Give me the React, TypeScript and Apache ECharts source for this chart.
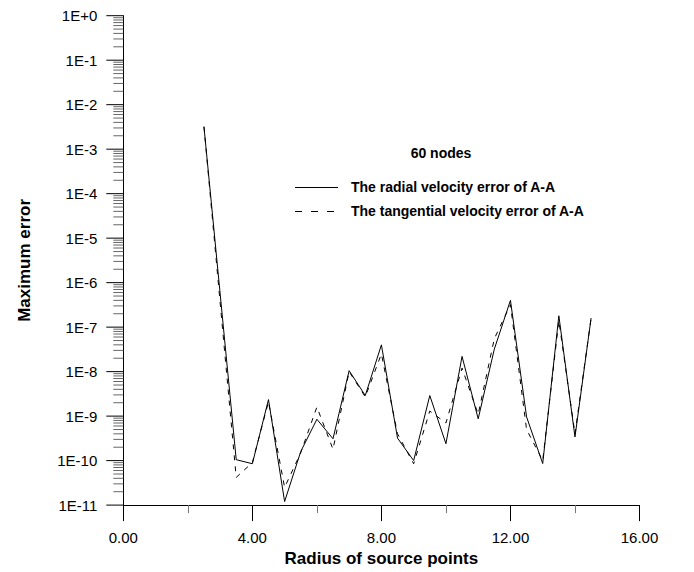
import React, { useEffect, useRef } from "react";
import * as echarts from "echarts";

const radius = [2.5, 3.5, 4.0, 4.5, 5.0, 5.5, 6.0, 6.5, 7.0, 7.5, 8.0, 8.5, 9.0, 9.5, 10.0, 10.5, 11.0, 11.5, 12.0, 12.5, 13.0, 13.5, 14.0, 14.5];
const radialError = [3.2e-3, 1.05e-10, 8.5e-11, 2.35e-9, 1.2e-11, 1.6e-10, 8.5e-10, 3.1e-10, 1.05e-8, 2.9e-9, 4e-8, 3.2e-10, 1.0e-10, 2.9e-9, 2.4e-10, 2.2e-8, 8.7e-10, 3.2e-8, 4e-7, 9.6e-10, 8.6e-11, 1.8e-7, 3.4e-10, 1.6e-7];
const tangentialError = [3.2e-3, 4.2e-11, 9e-11, 2.1e-9, 2.5e-11, 1.5e-10, 1.6e-9, 1.8e-10, 1e-8, 2.7e-9, 2.5e-8, 4e-10, 8.5e-11, 1.3e-9, 7e-10, 1.2e-8, 1.1e-9, 5.5e-8, 3.2e-7, 5e-10, 1e-10, 1.4e-7, 4e-10, 1.6e-7];

const seriesNames = ["The radial velocity error of A-A", "The tangential velocity error of A-A"];
const annotationTitle = "60 nodes";
const xAxisName = "Radius of source points";
const yAxisName = "Maximum error";

const yTickValues = [1e0, 1e-1, 1e-2, 1e-3, 1e-4, 1e-5, 1e-6, 1e-7, 1e-8, 1e-9, 1e-10, 1e-11];
const yTickLabels = ["1E+0", "1E-1", "1E-2", "1E-3", "1E-4", "1E-5", "1E-6", "1E-7", "1E-8", "1E-9", "1E-10", "1E-11"];
const minorMultipliers = [2, 3, 4, 5, 6, 7, 8, 9];

const FONT = "'Liberation Sans', Arial, sans-serif";

export default function App() {
  const ref = useRef<HTMLDivElement>(null);
  useEffect(() => {
    if (!ref.current) return;
    const chart = echarts.init(ref.current, null, { renderer: "svg" });
    const minorTicks: number[][] = [];
    yTickValues.slice(1).forEach((d) => {
      minorMultipliers.forEach((m) => {
        minorTicks.push([0, m * d]);
      });
    });
    const option: any = {
      animation: false,
      backgroundColor: "#ffffff",
      grid: { left: 123.3, right: 54.5, top: 15.7, bottom: 65.3 },
      xAxis: {
        type: "value",
        min: 0,
        max: 16,
        interval: 4,
        name: xAxisName,
        nameLocation: "middle",
        nameGap: 42,
        nameTextStyle: { fontFamily: FONT, fontSize: 17, fontWeight: "bold", color: "#000" },
        axisLine: { show: true, lineStyle: { color: "#000", width: 1 } },
        axisTick: { show: true, length: 16, lineStyle: { color: "#000", width: 1 } },
        minorTick: { show: true, splitNumber: 2, length: 8, lineStyle: { color: "#777", width: 1 } },
        splitLine: { show: false },
        axisLabel: {
          fontFamily: FONT,
          fontSize: 15,
          color: "#000",
          margin: 25,
          formatter: (v: number) => v.toFixed(2),
        },
      },
      yAxis: {
        type: "log",
        logBase: 10,
        min: 1e-11,
        max: 1,
        name: yAxisName,
        nameLocation: "middle",
        nameGap: 90,
        nameTextStyle: { fontFamily: FONT, fontSize: 17, fontWeight: "bold", color: "#000" },
        axisLine: { show: true, lineStyle: { color: "#000", width: 1 } },
        axisTick: { show: false },
        splitLine: { show: false },
        minorTick: { show: false },
        axisLabel: { show: false },
      },
      series: [
        {
          name: seriesNames[0],
          type: "line",
          data: radius.map((x, i) => [x, radialError[i]]),
          symbol: "none",
          lineStyle: { color: "#000", width: 1 },
          z: 3,
        },
        {
          name: seriesNames[1],
          type: "line",
          data: radius.map((x, i) => [x, tangentialError[i]]),
          symbol: "none",
          lineStyle: { color: "#000", width: 1, type: [5, 6] },
          z: 4,
        },
        {
          type: "custom",
          silent: true,
          clip: false,
          data: minorTicks,
          renderItem: (params: any, api: any) => {
            const pt = api.coord([api.value(0), api.value(1)]);
            return {
              type: "line",
              shape: { x1: pt[0] - 10, y1: pt[1], x2: pt[0], y2: pt[1] },
              style: { stroke: "#666", lineWidth: 1 },
            };
          },
          z: 2,
        },
        {
          type: "custom",
          silent: true,
          clip: false,
          data: yTickValues.map((v) => [0, v]),
          renderItem: (params: any, api: any) => {
            const pt = api.coord([api.value(0), api.value(1)]);
            return {
              type: "group",
              children: [
                {
                  type: "line",
                  shape: { x1: pt[0] - 17, y1: pt[1], x2: pt[0], y2: pt[1] },
                  style: { stroke: "#000", lineWidth: 1 },
                },
                {
                  type: "text",
                  style: {
                    text: yTickLabels[params.dataIndex],
                    x: pt[0] - 26,
                    y: pt[1],
                    textAlign: "right",
                    verticalAlign: "middle",
                    font: `15px ${FONT}`,
                    fill: "#000",
                  },
                },
              ],
            };
          },
          z: 2,
        },
      ],
      graphic: [
        {
          type: "text",
          style: {
            text: annotationTitle,
            x: 441,
            y: 153,
            textAlign: "center",
            verticalAlign: "middle",
            font: `bold 14px ${FONT}`,
            fill: "#000",
          },
        },
        {
          type: "line",
          shape: { x1: 295, y1: 187.5, x2: 338, y2: 187.5 },
          style: { stroke: "#000", lineWidth: 1 },
        },
        {
          type: "text",
          style: {
            text: seriesNames[0],
            x: 351,
            y: 187,
            textAlign: "left",
            verticalAlign: "middle",
            font: `bold 14px ${FONT}`,
            fill: "#000",
          },
        },
        {
          type: "line",
          shape: { x1: 295, y1: 211.5, x2: 338, y2: 211.5 },
          style: { stroke: "#000", lineWidth: 1, lineDash: [7, 9] },
        },
        {
          type: "text",
          style: {
            text: seriesNames[1],
            x: 351,
            y: 211,
            textAlign: "left",
            verticalAlign: "middle",
            font: `bold 14px ${FONT}`,
            fill: "#000",
          },
        },
      ],
    };
    chart.setOption(option);
    return () => chart.dispose();
  }, []);
  return (
    <div
      ref={ref}
      style={{ position: "fixed", left: 0, top: 0, width: 694, height: 572, background: "#fff" }}
    />
  );
}
